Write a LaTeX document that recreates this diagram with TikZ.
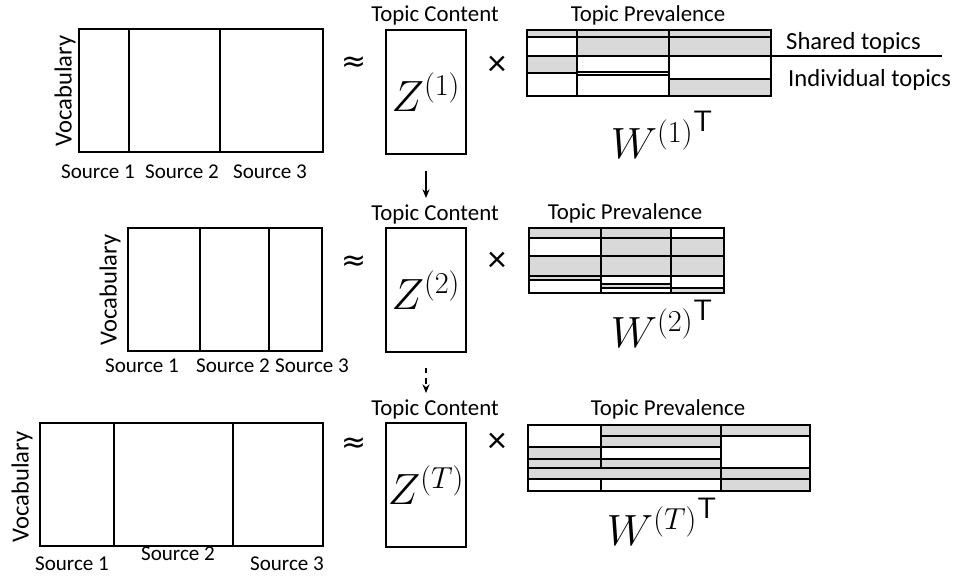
\documentclass[tikz,border=0pt]{standalone}
\usepackage{fontspec}
\setmainfont{Carlito}
\newfontfamily\symfont{DejaVu Sans}
\usetikzlibrary{arrows.meta}
\definecolor{cellgrey}{RGB}{217,217,217}
\tikzset{
  mat/.style={draw, line width=1.1pt, inner sep=0pt},
  gcell/.style={draw, line width=1.1pt, fill=cellgrey},
  wcell/.style={draw, line width=1.1pt, fill=white},
  voc/.style={rotate=90, font=\fontsize{14}{16}\selectfont},
  src/.style={font=\fontsize{12}{14}\selectfont},
  ttl/.style={font=\fontsize{13}{15}\selectfont},
  op/.style={font=\fontsize{21}{24}\selectfont},
  apx/.style={font=\symfont\fontsize{17}{19}\selectfont},
  zlbl/.style={mat, minimum width=1.6cm, minimum height=2.48cm, font=\fontsize{24}{28}\selectfont},
  wlbl/.style={font=\fontsize{24}{28}\selectfont},
  flow/.style={line width=0.8pt, -{Stealth[length=5pt,width=4pt]}}
}
\begin{document}
\begin{tikzpicture}[x=0.02cm, y=-0.02cm]
\useasboundingbox (0,0) rectangle (955,577);
\node[voc] (voc1) at (65,91) {Vocabulary};
\node[mat, minimum width=4.88cm, minimum height=2.46cm] (x1) at (201,90.5) {};
\draw[line width=1.1pt] (129,29) -- (129,152);
\draw[line width=1.1pt] (220,29) -- (220,152);
\node[src] (s11) at (98,172) {Source 1};
\node[src] (s12) at (182,172) {Source 2};
\node[src] (s13) at (270,172) {Source 3};
\node[apx] (ap1) at (354,64) {≈};
\node[ttl] (tc1) at (435,15) {Topic Content};
\node[zlbl] (z1) at (426,92) {$Z^{(1)}$};
\node[op] (tm1) at (497,66) {×};
\node[ttl] (tp1) at (648,15) {Topic Prevalence};
\draw[gcell] (527,30) rectangle (577,37);
\draw[wcell] (527,37) rectangle (577,56);
\draw[gcell] (527,56) rectangle (577,73);
\draw[wcell] (527,73) rectangle (577,96);
\draw[gcell] (577,30) rectangle (669,37);
\draw[gcell] (577,37) rectangle (669,56);
\draw[wcell] (577,56) rectangle (669,72);
\draw[wcell] (577,72) rectangle (669,75);
\draw[wcell] (577,75) rectangle (669,96);
\draw[gcell] (669,30) rectangle (771,37);
\draw[gcell] (669,37) rectangle (771,56);
\draw[wcell] (669,56) rectangle (771,79);
\draw[gcell] (669,79) rectangle (771,96);
\coordinate (sh0) at (771,56);
\coordinate (sh1) at (942,56);
\draw[line width=1pt] (sh0) -- (sh1);
\node[anchor=west, font=\fontsize{14}{16}\selectfont] (shr) at (780,43) {Shared topics};
\node[anchor=west, font=\fontsize{14}{16}\selectfont] (ind) at (782,80) {Individual topics};
\node[wlbl] (w1) at (662,135) {${W^{(1)}}^{\mathsf{T}}$};

\node[voc] (voc2) at (110,290) {Vocabulary};
\node[mat, minimum width=3.88cm, minimum height=2.46cm] (x2) at (225,289.5) {};
\draw[line width=1.1pt] (200,228) -- (200,351);
\draw[line width=1.1pt] (269,228) -- (269,351);
\node[src] (s21) at (142,366) {Source 1};
\node[src] (s22) at (233,366) {Source 2};
\node[src] (s23) at (312,366) {Source 3};
\node[apx] (ap2) at (354,263) {≈};
\node[ttl] (tc2) at (435,214) {Topic Content};
\node[zlbl] (z2) at (426,290) {$Z^{(2)}$};
\node[op] (tm2) at (497,262) {×};
\node[ttl] (tp2) at (625,213) {Topic Prevalence};
\draw[gcell] (529,228) rectangle (601,238);
\draw[wcell] (529,238) rectangle (601,256);
\draw[gcell] (529,256) rectangle (601,276);
\draw[gcell] (529,276) rectangle (601,280);
\draw[wcell] (529,280) rectangle (601,293);
\draw[gcell] (601,228) rectangle (671,238);
\draw[gcell] (601,238) rectangle (671,256);
\draw[gcell] (601,256) rectangle (671,276);
\draw[wcell] (601,276) rectangle (671,284);
\draw[gcell] (601,284) rectangle (671,288);
\draw[wcell] (601,288) rectangle (671,293);
\draw[wcell] (671,228) rectangle (724,238);
\draw[gcell] (671,238) rectangle (724,256);
\draw[gcell] (671,256) rectangle (724,276);
\draw[wcell] (671,276) rectangle (724,288);
\draw[gcell] (671,288) rectangle (724,293);
\node[wlbl] (w2) at (662,324) {${W^{(2)}}^{\mathsf{T}}$};

\node[voc] (voc3) at (22,487) {Vocabulary};
\node[mat, minimum width=5.66cm, minimum height=2.46cm] (x3) at (181.5,484.5) {};
\draw[line width=1.1pt] (114,423) -- (114,546);
\draw[line width=1.1pt] (233,423) -- (233,546);
\node[src] (s31) at (72,564) {Source 1};
\node[src] (s32) at (178,554) {Source 2};
\node[src] (s33) at (287,564) {Source 3};
\node[apx] (ap3) at (354,445) {≈};
\node[ttl] (tc3) at (435,409) {Topic Content};
\node[zlbl] (z3) at (426,485) {$Z^{(T)}$};
\node[op] (tm3) at (497,443) {×};
\node[ttl] (tp3) at (668,409) {Topic Prevalence};
\draw[wcell] (528,425) rectangle (601,447);
\draw[gcell] (528,447) rectangle (601,459);
\draw[gcell] (528,459) rectangle (601,468);
\draw[gcell] (601,425) rectangle (721,436);
\draw[gcell] (601,436) rectangle (721,447);
\draw[wcell] (601,447) rectangle (721,459);
\draw[gcell] (601,459) rectangle (721,468);
\draw[gcell] (528,468) rectangle (721,479);
\draw[wcell] (528,479) rectangle (601,491);
\draw[wcell] (601,479) rectangle (721,491);
\draw[gcell] (721,425) rectangle (810,436);
\draw[wcell] (721,436) rectangle (810,468);
\draw[gcell] (721,468) rectangle (810,479);
\draw[gcell] (721,479) rectangle (810,491);
\node[wlbl] (w3) at (662,522) {${W^{(T)}}^{\mathsf{T}}$};

\draw[flow, shorten <=0.32cm] (z1.south) -- (z1.south |- tc2.north);
\draw[flow, dashed, shorten <=0.3cm] (z2.south) -- (z2.south |- tc3.north);
\end{tikzpicture}
\end{document}
